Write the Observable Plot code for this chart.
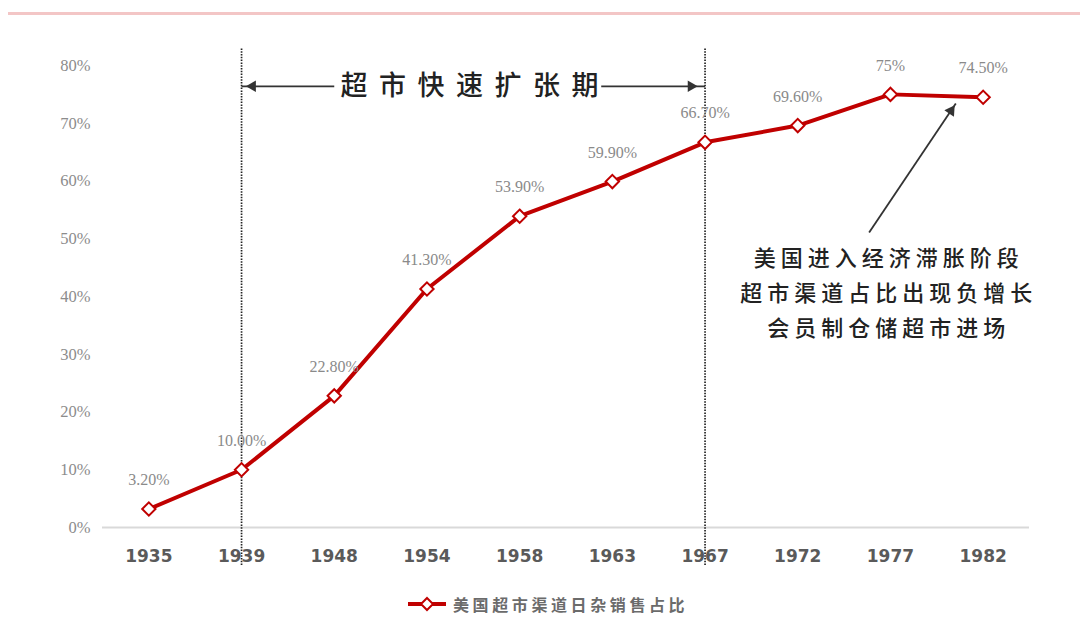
<!DOCTYPE html>
<html><head><meta charset="utf-8">
<script src="https://cdn.jsdelivr.net/npm/d3@7"></script>
<script src="https://cdn.jsdelivr.net/npm/@observablehq/plot@0.6"></script>
<style>
body{margin:0;background:#fff;width:1080px;height:643px;overflow:hidden;position:relative;font-family:"Noto Sans CJK SC",sans-serif}
#topline{position:absolute;left:8px;right:0;top:12px;height:3px;background:#f3c6c6}
#legend{display:flex;align-items:center;margin-left:407px;padding-top:8px;height:22px}
#legend span{font-size:16px;font-weight:bold;color:#6b6b6b;letter-spacing:3.6px;margin-left:6px}
</style></head><body>
<div id="topline"></div>
<div id="chart"></div>
<div id="legend"></div>
<script>
const years = ["1935","1939","1948","1954","1958","1963","1967","1972","1977","1982"];
const shares = [3.2, 10.0, 22.8, 41.3, 53.9, 59.9, 66.7, 69.6, 75, 74.5];
const valueLabels = ["3.20%","10.00%","22.80%","41.30%","53.90%","59.90%","66.70%","69.60%","75%","74.50%"];
const yTicks = [0,10,20,30,40,50,60,70,80];
const periodBounds = ["1939","1967"];
const periodLabel = "超市快速扩张期";
const noteLines = ["美国进入经济滞胀阶段","超市渠道占比出现负增长","会员制仓储超市进场"];
const seriesName = "美国超市渠道日杂销售占比";

const red = "#C00000";
const rows = years.map((y,i)=>({i, year:y, v:shares[i], label:valueLabels[i]}));
const bIdx = periodBounds.map(y=>years.indexOf(y));
const spanY = 76.4;
const spanGap = [2.0, 4.88]; // where the label interrupts the arrow
const note = {x1:7.77, y1:51.1, x2:8.705, y2:73.4, tx:7.95, ty:41.2};

const plot = Plot.plot({
  width:1080, height:585,
  marginLeft:102, marginRight:51, marginTop:65, marginBottom:58,
  x:{domain:[-0.5, years.length-0.5]},
  y:{domain:[0,80]},
  style:{background:"#fff"},
  marks:[
    Plot.ruleY([0],{stroke:"#d9d9d9", strokeWidth:2}),
    Plot.ruleX(bIdx,{x:d=>d, y1:-6.6, y2:83.1, stroke:"#222", strokeWidth:1.7, strokeDasharray:"1.5,1.3"}),
    Plot.line(rows,{x:"i", y:"v", stroke:red, strokeWidth:4}),
    Plot.dot(rows,{x:"i", y:"v", symbol:"diamond2", r:6, fill:"white", stroke:red, strokeWidth:2}),
    Plot.text(rows,{x:"i", y:"v", text:"label", dy:-29, fill:"#8a8a8a", fontFamily:"Liberation Serif", fontSize:16}),
    // period arrow
    Plot.link([[bIdx[0], spanGap[0]], [spanGap[1], bIdx[1]]],{x1:d=>d[0], x2:d=>d[1], y1:spanY, y2:spanY, stroke:"#333", strokeWidth:1.8}),
    Plot.dot([0],{x:bIdx[0], y:spanY, symbol:"triangle2", r:5.5, rotate:-90, dx:11, fill:"#333", stroke:"none"}),
    Plot.dot([0],{x:bIdx[1], y:spanY, symbol:"triangle2", r:5.5, rotate:90, dx:-14, fill:"#333", stroke:"none"}),
    Plot.text([periodLabel],{x:(bIdx[0]+bIdx[1])/2, y:spanY, text:d=>d, dx:2, fontSize:27, fontWeight:500, fill:"#222",
      fontFamily:"Noto Sans CJK SC"}),
    // note arrow
    Plot.link([note],{x1:"x1", y1:"y1", x2:"x2", y2:"y2", stroke:"#333", strokeWidth:1.8}),
    Plot.dot([note],{x:"x2", y:"y2", symbol:"triangle2", r:5.5, rotate:34, dx:-4.8, dy:7.1, fill:"#333", stroke:"none"}),
    Plot.text([noteLines.join("\n")],{x:note.tx, y:note.ty, text:d=>d, lineHeight:1.6, lineAnchor:"middle",
      fontSize:22, fontWeight:500, fill:"#222", fontFamily:"Noto Sans CJK SC", dx:3}),
    Plot.axisY({ticks:yTicks, tickSize:0, tickPadding:12, tickFormat:d=>d+"%", label:null,
      fontFamily:"Liberation Serif", fontSize:16.5, color:"#8c8c8c"}),
    Plot.axisX({ticks:years.map((_,i)=>i), tickFormat:i=>years[i], tickSize:0, tickPadding:22, label:null,
      fontFamily:"DejaVu Sans", fontWeight:"bold", fontSize:17, color:"#5a5a5a"})
  ]
});
plot.querySelectorAll("text").forEach(t=>{
  const s = t.textContent;
  if (s === periodLabel) t.setAttribute("letter-spacing","11.5");
  else if (s.includes(noteLines[0])) t.setAttribute("letter-spacing","5");
});
document.getElementById("chart").appendChild(plot);

const lg = document.getElementById("legend");
lg.innerHTML = `<svg width="40" height="16"><line x1="1" x2="39" y1="8" y2="8" stroke="${red}" stroke-width="4"/>
<path d="M20,2 L26,8 L20,14 L14,8 Z" fill="white" stroke="${red}" stroke-width="2"/></svg>`;
const sp = document.createElement("span"); sp.textContent = seriesName; lg.appendChild(sp);
</script>
</body></html>
